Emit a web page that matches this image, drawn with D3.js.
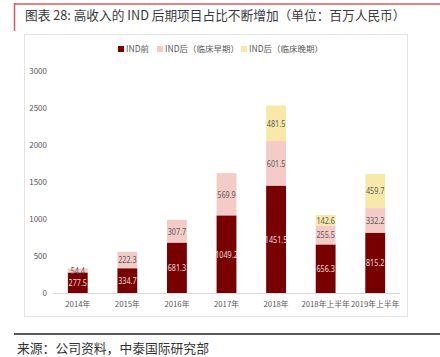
<!DOCTYPE html>
<html><head><meta charset="utf-8">
<script src="https://cdn.jsdelivr.net/npm/d3@7"></script>
<style>
html,body{margin:0;padding:0;background:#fff;}
svg{display:block;}
</style></head>
<body>
<svg id="c" width="440" height="357"></svg>
<script>
const categories = ["2014年","2015年","2016年","2017年","2018年","2018年上半年","2019年上半年"];
const seriesNames = ["IND前","IND后（临床早期）","IND后（临床晚期）"];
const preIND = [277.5,334.7,681.3,1049.2,1451.5,656.3,815.2];
const postEarly = [54.4,222.3,307.7,569.9,601.5,255.5,332.2];
const postLate = [0,0,0,0,481.5,142.6,459.7];
const yTicks = [0,500,1000,1500,2000,2500,3000];
const titleText = "图表 28: 高收入的 IND 后期项目占比不断增加（单位：百万人民币）";
const sourceText = "来源：公司资料，中泰国际研究部";

const colors = ["#780000","#F5CBC8","#F8E9A9"];
const labelColors = ["#F3DEDC","#595959","#595959"];
const font = "'Noto Sans CJK SC','Noto Sans',sans-serif";

const svg = d3.select("#c");

// header decorations
svg.append("line").attr("x1",14).attr("x2",440).attr("y1",4).attr("y2",4).attr("stroke","#E0565E").attr("stroke-width",1.5);
svg.append("line").attr("x1",14.5).attr("x2",14.5).attr("y1",3).attr("y2",31).attr("stroke","#E0565E").attr("stroke-width",1.5);
svg.append("text").attr("x",25).attr("y",20).attr("font-family",font).attr("font-size",12.7).attr("fill","#3a3a3a").text(titleText);

// chart frame
svg.append("rect").attr("x",24.5).attr("y",34.5).attr("width",383).attr("height",282).attr("fill","#fff").attr("stroke","#E3E3E3").attr("stroke-width",1);

// footer
svg.append("line").attr("x1",14).attr("x2",440).attr("y1",334).attr("y2",334).attr("stroke","#222").attr("stroke-width",1.5);
svg.append("text").attr("x",17).attr("y",353).attr("font-family",font).attr("font-size",12.8).attr("fill","#333").text(sourceText);

const x = d3.scaleBand().domain(categories).range([53,400]).paddingInner(0.6).paddingOuter(0.3);
const y = d3.scaleLinear().domain([0,3000]).range([293,71]);

// y axis labels
const yAxis = d3.axisLeft(y).tickValues(yTicks).tickFormat(d3.format("d")).tickSize(0).tickPadding(6);
const gy = svg.append("g").attr("transform","translate(47,0)").call(yAxis);
gy.select(".domain").remove();
gy.selectAll("text").attr("font-family",font).attr("font-size",8).attr("fill","#595959").attr("x",0).attr("text-anchor","end");

// stacked data
const rows = categories.map((c,i)=>({cat:c, s0:preIND[i], s1:postEarly[i], s2:postLate[i]}));
const stack = d3.stack().keys(["s0","s1","s2"])(rows);

const g = svg.append("g");
stack.forEach((layer,li)=>{
  g.selectAll(null).data(layer).enter().append("rect")
    .attr("x",d=>x(d.data.cat))
    .attr("width",x.bandwidth())
    .attr("y",d=>y(d[1]))
    .attr("height",d=>Math.max(0,y(d[0])-y(d[1])))
    .attr("fill",colors[li]);
  g.selectAll(null).data(layer.filter(d=>d[1]-d[0]>0)).enter().append("text")
    .attr("transform",d=>`translate(${x(d.data.cat)+x.bandwidth()/2},${(y(d[0])+y(d[1]))/2}) scale(0.76,1)`)
    .attr("dy","0.35em")
    .attr("text-anchor","middle")
    .attr("font-family","'Noto Sans',sans-serif")
    .attr("font-size",9.5)
    .attr("fill",labelColors[li])
    .text(d=>(d[1]-d[0]).toFixed(1));
});

// x axis
const xAxis = d3.axisBottom(x).tickSize(0).tickPadding(8);
const gx = svg.append("g").attr("transform","translate(0,293)").call(xAxis);
gx.select(".domain").attr("stroke","#D9D9D9").attr("d","M53,0.5H400");
gx.selectAll("text").attr("font-family",font).attr("font-size",7.8).attr("fill","#595959");

// legend
const legendX = [118,157,241];
seriesNames.forEach((n,i)=>{
  svg.append("rect").attr("x",legendX[i]).attr("y",46).attr("width",6).attr("height",6).attr("fill",colors[i]);
  svg.append("text").attr("x",legendX[i]+8).attr("y",49).attr("dy","0.35em").attr("font-family",font).attr("font-size",8.5).attr("fill","#595959").text(n);
});
</script>
</body></html>
